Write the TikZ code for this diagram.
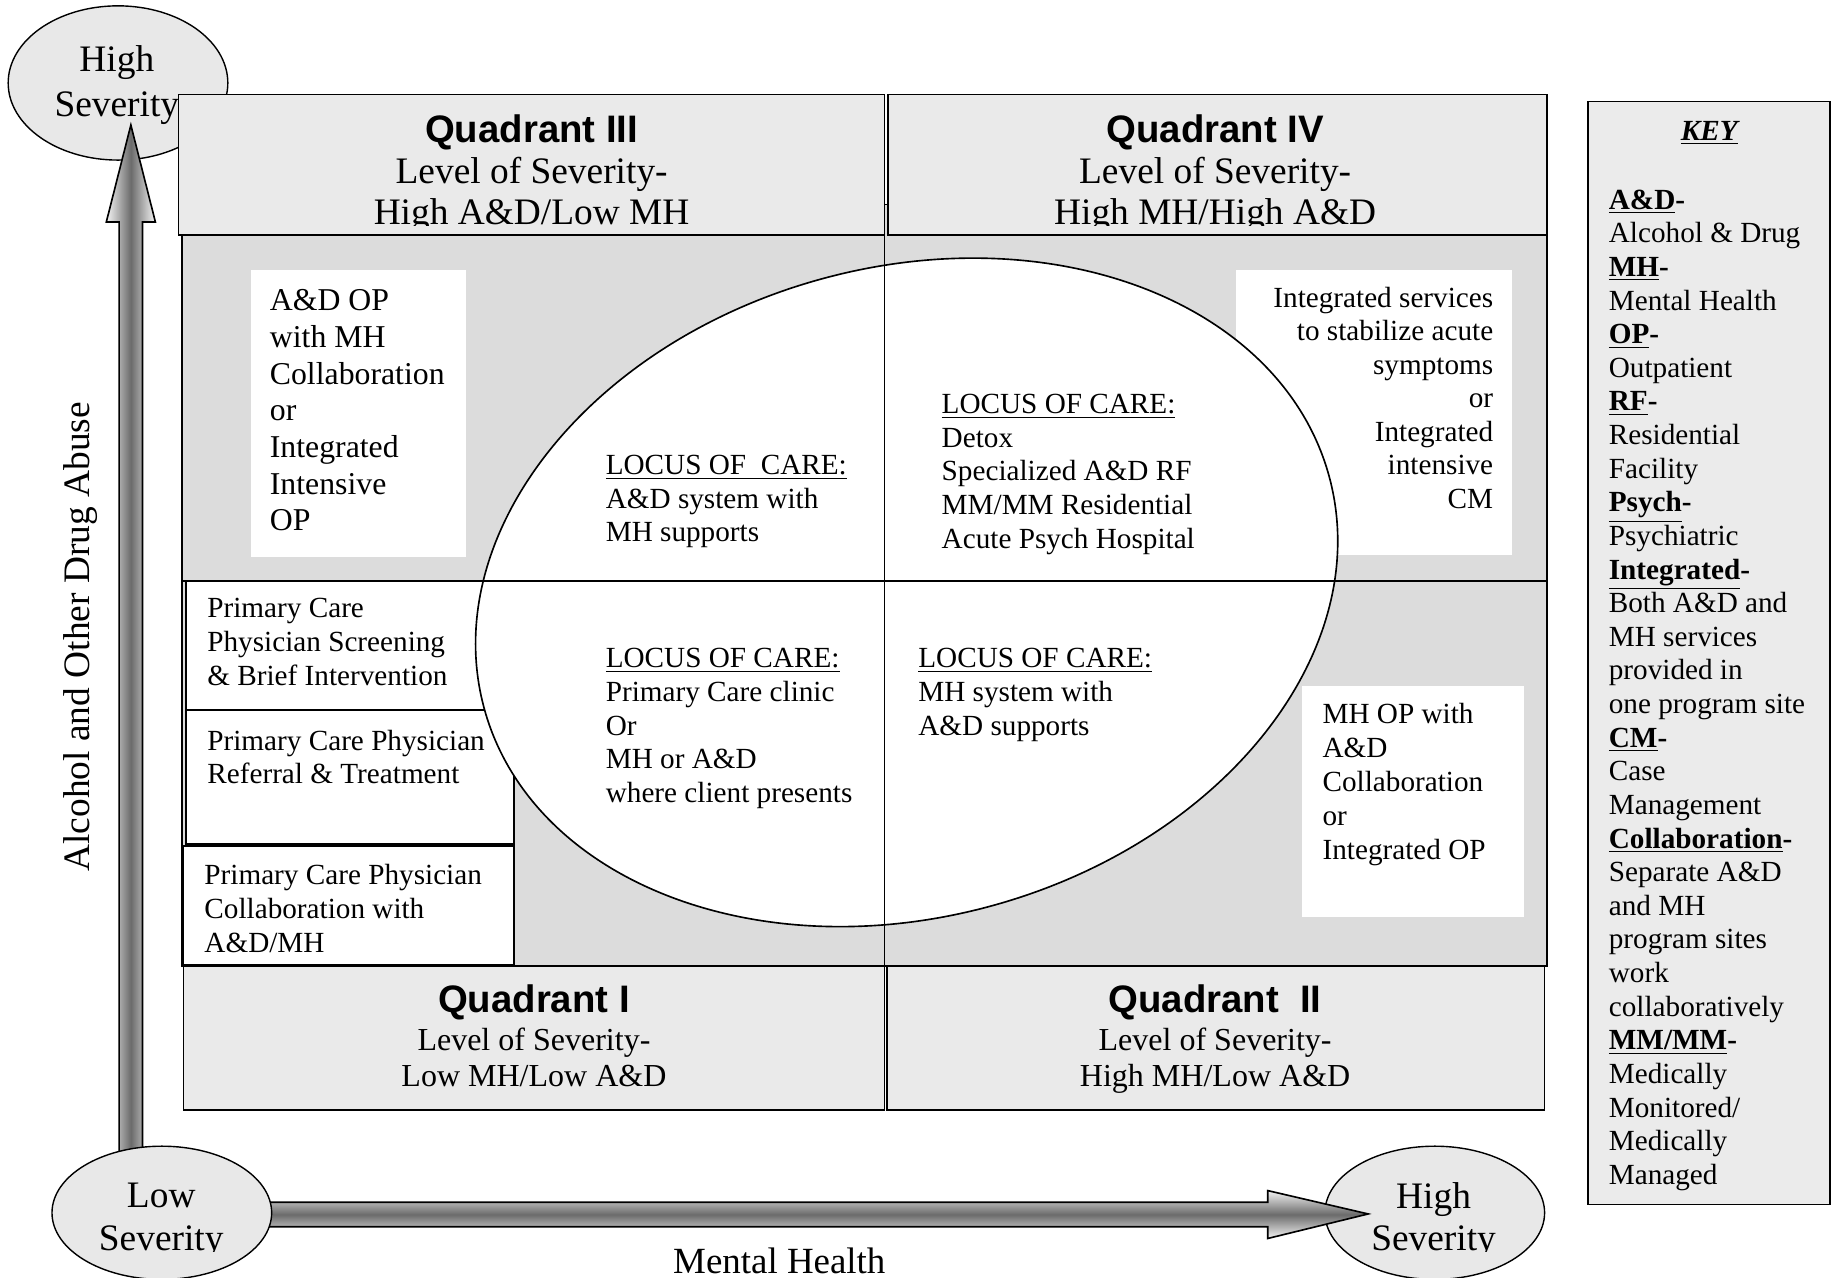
\documentclass[tikz,border=0pt]{standalone}
\usepackage{fontspec}
\setmainfont{Liberation Serif}
\newfontfamily\arialfont{Liberation Sans}
\definecolor{hdrgray}{HTML}{EAEAEA}
\definecolor{bodygray}{HTML}{DCDCDC}
\definecolor{keygray}{HTML}{EBEBEB}
\definecolor{ellgray}{HTML}{E8E8E8}
\definecolor{shadeedge}{HTML}{F4F4F4}
\definecolor{shademid}{HTML}{6B6B6B}
\newcommand\fsz[2]{\fontsize{#1}{#2}\selectfont}
\newcommand\qtitle[1]{{\arialfont\bfseries\fsz{16.4}{19}#1}}
\begin{document}
\begin{tikzpicture}[x=0.5pt,y=-0.5pt,
  txt/.style={inner sep=0pt,outer sep=0pt},
  hdr/.style={draw,fill=hdrgray,line width=0.6pt},
  pcbox/.style={draw,fill=white,line width=0.9pt},
  sev/.style={draw,fill=ellgray,line width=0.6pt},
  divline/.style={line width=0.8pt},
  arrowshade/.style={line width=0.7pt}]
\useasboundingbox (0,0) rectangle (1568,1093);
\clip (0,0) rectangle (1568,1093);
\fill[white] (0,0) rectangle (1568,1093);

% body region
\draw[fill=bodygray,line width=0.7pt] (156,175) rectangle (1324,827);
\fill[white] (215,231) rectangle (399,477);
\fill[white] (1058,231) rectangle (1294,475);
\fill[white] (1114,587) rectangle (1304,785);
\draw[pcbox] (159,497) rectangle (440,608);
\draw[pcbox] (159,608) rectangle (440,722);
\draw[pcbox] (157,724) rectangle (440,826);

% central ellipse
\draw[fill=white,line width=0.7pt,rotate around={15.5:(776,507)}] (776,507) ellipse [x radius=375, y radius=278];
\draw[divline] (156,497) -- (1324,497);
\draw[divline] (757,200) -- (757,827);

% severity ellipses (high)
\draw[sev] (101,71) ellipse [x radius=94, y radius=66];
\node[txt,anchor=base] (hsl1) at (100,61.5) {\fsz{16}{19}High};
\node[txt,anchor=base] (hsl2) at (100,99.5) {\fsz{16}{19}Severity};
\draw[sev] (1228,1038) ellipse [x radius=94, y radius=57];

% arrows
\shadedraw[arrowshade,left color=shadeedge,right color=shadeedge,middle color=shademid]
  (102,990) -- (102,190) -- (91,190) -- (112,107) -- (133,190) -- (122,190) -- (122,990) -- cycle;
\shadedraw[arrowshade,top color=shadeedge,bottom color=shadeedge,middle color=shademid]
  (225,1029) -- (1085,1029) -- (1085,1019) -- (1171,1039) -- (1085,1060) -- (1085,1050) -- (225,1050) -- cycle;
\draw[sev] (138.5,1038) ellipse [x radius=94, y radius=57];

\begin{scope}
\clip (0,0) rectangle (1568,1071);
\node[txt,anchor=base] (lsl1) at (138,1033.5) {\fsz{16}{19}Low};
\node[txt,anchor=base] (lsl2) at (138,1070.5) {\fsz{16}{19}Severity};
\node[txt,anchor=base] (rsl1) at (1227,1034.5) {\fsz{16}{19}High};
\node[txt,anchor=base] (rsl2) at (1227,1070.5) {\fsz{16}{19}Severity};
\end{scope}

% headers
\draw[hdr] (153,81) rectangle (757,201);
\draw[hdr] (760,81) rectangle (1324,201);
\draw[hdr] (157,827) rectangle (757,950);
\draw[hdr] (759,827) rectangle (1322,950);

\node[txt,anchor=base] (q3t) at (455,122) {\qtitle{Quadrant III}};
\node[txt,anchor=base] (q3a) at (455,157) {\fsz{16}{19}Level of Severity-};
\node[txt,anchor=base] (q4t) at (1040,122) {\qtitle{Quadrant IV}};
\node[txt,anchor=base] (q4a) at (1040,157) {\fsz{16}{19}Level of Severity-};
\begin{scope}
\clip (0,0) rectangle (1568,193);
\node[txt,anchor=base] (q3b) at (455,192.5) {\fsz{16}{19}High A\&D/Low MH};
\node[txt,anchor=base] (q4b) at (1040,192.5) {\fsz{16}{19}High MH/High A\&D};
\end{scope}

\node[txt,anchor=base] (q1t) at (457,867) {\qtitle{Quadrant I}};
\node[txt,anchor=base] (q1a) at (457,899) {\fsz{13.7}{16}Level of Severity-};
\node[txt,anchor=base] (q1b) at (457,930) {\fsz{13.7}{16}Low MH/Low A\&D};
\node[txt,anchor=base] (q2t) at (1040,867) {\qtitle{Quadrant\ \ II}};
\node[txt,anchor=base] (q2a) at (1040,899) {\fsz{13.7}{16}Level of Severity-};
\node[txt,anchor=base] (q2b) at (1040,930) {\fsz{13.7}{16}High MH/Low A\&D};

% box texts
\node[txt,anchor=base west] (tlbox) at (231,266) {\parbox[t]{200pt}{\raggedright\fsz{13.6}{15.7}A\&D OP\\with MH\\Collaboration\\or\\Integrated\\Intensive\\OP}};
\node[txt,anchor=base east] (trbox) at (1278,263) {\parbox[t]{200pt}{\raggedleft\fsz{12.5}{14.35}Integrated services\\to stabilize acute\\symptoms\\or\\Integrated\\intensive\\CM}};
\node[txt,anchor=base west] (brbox) at (1132,619.5) {\parbox[t]{200pt}{\raggedright\fsz{12.5}{14.5}MH OP with\\A\&D\\Collaboration\\or\\Integrated OP}};

\node[txt,anchor=base west] (pc1) at (177.5,528.4) {\parbox[t]{200pt}{\raggedright\fsz{12.5}{14.6}Primary Care\\Physician Screening\\\& Brief Intervention}};
\node[txt,anchor=base west] (pc2) at (177.5,642) {\parbox[t]{200pt}{\raggedright\fsz{12.5}{14.4}Primary Care Physician\\Referral \& Treatment}};
\node[txt,anchor=base west] (pc3) at (175,757.3) {\parbox[t]{200pt}{\raggedright\fsz{12.5}{14.5}Primary Care Physician\\Collaboration with\\A\&D/MH}};

% locus texts
\node[txt,anchor=base west] (loc3) at (518.5,406) {\parbox[t]{200pt}{\raggedright\fsz{12.5}{14.4}\underline{LOCUS OF~~CARE:}\\A\&D system with\\MH supports}};
\node[txt,anchor=base west] (loc4) at (806,354) {\parbox[t]{200pt}{\raggedright\fsz{12.5}{14.4}\underline{LOCUS OF CARE:}\\Detox\\Specialized A\&D RF\\MM/MM Residential\\Acute Psych Hospital}};
\node[txt,anchor=base west] (loc1) at (518.5,571.5) {\parbox[t]{200pt}{\raggedright\fsz{12.5}{14.4}\underline{LOCUS OF CARE:}\\Primary Care clinic\\Or\\MH or A\&D\\where client presents}};
\node[txt,anchor=base west] (loc2) at (786,571.5) {\parbox[t]{200pt}{\raggedright\fsz{12.5}{14.4}\underline{LOCUS OF CARE:}\\MH system with\\A\&D supports}};

% axis labels
\node[txt,anchor=base,rotate=90] (yaxis) at (76.5,545) {\fsz{16}{19}Alcohol and Other Drug Abuse};
\node[txt,anchor=base] (xaxis) at (667,1090) {\fsz{15.8}{19}Mental Health};

% key
\draw[fill=keygray,line width=0.7pt] (1359,87) rectangle (1566,1031);
\node[txt,anchor=base] (keyt) at (1463,120) {\fsz{12.5}{14.4}\textbf{\textit{\underline{KEY}}}};
\node[txt,anchor=base west] (keyl) at (1377,179) {\parbox[t]{200pt}{\raggedright\fsz{12.5}{14.39}%
\textbf{\underline{A\&D}-}\\Alcohol \& Drug\\\textbf{\underline{MH}-}\\Mental Health\\\textbf{\underline{OP}-}\\Outpatient\\\textbf{\underline{RF}-}\\Residential\\Facility\\\textbf{\underline{Psych}-}\\Psychiatric\\\textbf{\underline{Integrated}-}\\Both A\&D and\\MH services\\provided in\\one program site\\\textbf{\underline{CM}-}\\Case\\Management\\\textbf{\underline{Collaboration}-}\\Separate A\&D\\and MH\\program sites\\work\\collaboratively\\\textbf{\underline{MM/MM}-}\\Medically\\Monitored/\\Medically\\Managed}};
\end{tikzpicture}
\end{document}
